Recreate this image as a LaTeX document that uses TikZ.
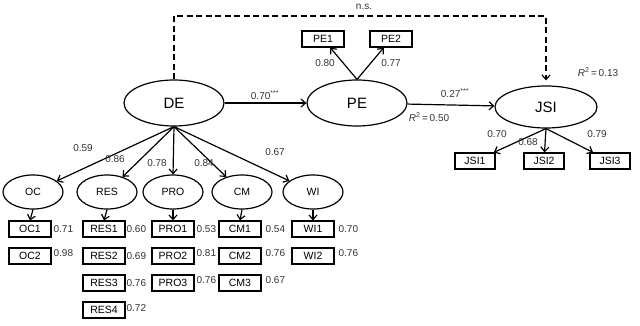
\documentclass[tikz,border=0pt]{standalone}
\usepackage{fontspec}
\setmainfont{Liberation Sans}
\usetikzlibrary{arrows.meta,shapes.geometric}
\begin{document}
\begin{tikzpicture}[x=1pt, y=-1pt, line width=1.2pt, >={Straight Barb[length=4.5pt,width=8pt]},
	every node/.style={font=\fontsize{10}{12}\selectfont, inner sep=0pt},
	construct/.style={ellipse, draw, minimum width=100pt, minimum height=46pt, font=\fontsize{15}{17}\selectfont},
	facet/.style={ellipse, draw, minimum width=60pt, minimum height=34pt, font=\fontsize{10.5}{12}\selectfont},
	item/.style={rectangle, draw, minimum width=42pt, minimum height=16pt, font=\fontsize{10.5}{12}\selectfont},
	coef/.style={text=black!80}, load/.style={anchor=west, text=black!80}]
	\useasboundingbox (0,0) rectangle (640,326);

	% latent variables
	\node[construct] (DE) at (174,103) {DE};
	\node[construct] (PE) at (357,103) {PE};
	\node[construct, minimum width=102pt, minimum height=42pt] (JSI) at (546,107) {JSI};

	\node[facet] (OC) at (33,192) {OC};
	\node[facet] (RES) at (107,192) {RES};
	\node[facet] (PRO) at (173,192) {PRO};
	\node[facet] (CM) at (242,192) {CM};
	\node[facet] (WI) at (313,192) {WI};

	% items
	\node[item] (PE1) at (323,39) {PE1};
	\node[item] (PE2) at (391,39) {PE2};
	\node[item, minimum width=40pt] (JSI1) at (475,161) {JSI1};
	\node[item, minimum width=40pt] (JSI2) at (544,161) {JSI2};
	\node[item, minimum width=40pt] (JSI3) at (610,161) {JSI3};

	\node[item] (OC1) at (30,229) {OC1};
	\node[item] (OC2) at (30,256) {OC2};
	\node[item] (RES1) at (104,229) {RES1};
	\node[item] (RES2) at (104,256) {RES2};
	\node[item] (RES3) at (104,283) {RES3};
	\node[item] (RES4) at (104,310) {RES4};
	\node[item] (PRO1) at (173,229) {PRO1};
	\node[item] (PRO2) at (173,256) {PRO2};
	\node[item] (PRO3) at (173,283) {PRO3};
	\node[item] (CM1) at (240,229) {CM1};
	\node[item] (CM2) at (240,256) {CM2};
	\node[item] (CM3) at (240,283) {CM3};
	\node[item] (WI1) at (313,229) {WI1};
	\node[item] (WI2) at (313,256) {WI2};

	% paths
	\coordinate (top) at (364,16);
	\draw[->, dash pattern=on 6pt off 3.5pt, shorten >=5pt] (DE.north) |- (top) -| (JSI.north);
	\draw[->] (DE) -- (PE);
	\draw[->] (PE) -- (JSI);
	\draw[->] (PE.north) -- (PE1);
	\draw[->] (PE.north) -- (PE2);
	\draw[->] (JSI.south) -- (JSI1);
	\draw[->] (JSI.south) -- (JSI2);
	\draw[->] (JSI.south) -- (JSI3);
	\draw[->] (DE.south) -- (OC);
	\draw[->] (DE.south) -- (RES);
	\draw[->] (DE.south) -- (PRO.north);
	\draw[->] (DE.south) -- (CM);
	\draw[->] (DE.south) -- (WI);
	\draw[->] (OC.south) -- (OC1.north);
	\draw[->] (RES.south) -- (RES1.north);
	\draw[->] (PRO.south) -- (PRO1.north);
	\draw[->] (CM.south) -- (CM1.north);
	\draw[->] (WI.south) -- (WI1.north);

	% coefficients
	\node[coef] (ns) at (364,7) {n.s.};
	\node[coef] (c1) at (265,95) {0.70\textsuperscript{***}};
	\node[coef] (c2) at (455,93) {0.27\textsuperscript{***}};
	\node[coef] (r1) at (429,117) {\textit{R}\textsuperscript{2}\,=\,0.50};
	\node[coef] (r2) at (598,72) {\textit{R}\textsuperscript{2}\,=\,0.13};
	\node[coef] (c3) at (325,63) {0.80};
	\node[coef] (c4) at (391,63) {0.77};
	\node[coef] (c5) at (497,134) {0.70};
	\node[coef] (c6) at (528,142) {0.68};
	\node[coef] (c7) at (597,134) {0.79};
	\node[coef] (c8) at (83,148) {0.59};
	\node[coef] (c9) at (115,159) {0.86};
	\node[coef] (c10) at (157,163) {0.78};
	\node[coef] (c11) at (204,163) {0.84};
	\node[coef] (c12) at (275,152) {0.67};

	% loadings
	\node[load] (l1) at (53,229) {0.71};
	\node[load] (l2) at (53,253) {0.98};
	\node[load] (l3) at (126,229) {0.60};
	\node[load] (l4) at (126,256) {0.69};
	\node[load] (l5) at (126,283) {0.76};
	\node[load] (l6) at (126,308) {0.72};
	\node[load] (l7) at (196,229) {0.53};
	\node[load] (l8) at (196,253) {0.81};
	\node[load] (l9) at (196,280) {0.76};
	\node[load] (l10) at (265,229) {0.54};
	\node[load] (l11) at (265,253) {0.76};
	\node[load] (l12) at (265,280) {0.67};
	\node[load] (l13) at (338,229) {0.70};
	\node[load] (l14) at (338,253) {0.76};
\end{tikzpicture}
\end{document}
